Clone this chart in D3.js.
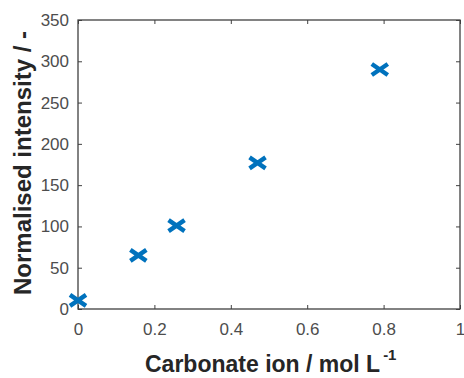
<!DOCTYPE html>
<html><head><meta charset="utf-8">
<script src="https://cdn.jsdelivr.net/npm/d3@7"></script>
<style>body{margin:0;background:#fff}svg{display:block}</style>
</head><body>
<script>
const xValues = [0.0, 0.158, 0.258, 0.47, 0.79];
const yValues = [10.5, 65, 101, 177, 290];
const xTicks = [0, 0.2, 0.4, 0.6, 0.8, 1];
const yTicks = [0, 50, 100, 150, 200, 250, 300, 350];
const xLabel = "Carbonate ion / mol L";
const yLabel = "Normalised intensity / -";

const W = 464, H = 378;
const m = {left: 78, right: 4, top: 20, bottom: 69};
const svg = d3.select("body").append("svg").attr("width", W).attr("height", H);
const x = d3.scaleLinear().domain([0, 1]).range([m.left, W - m.right]);
const y = d3.scaleLinear().domain([0, 350]).range([H - m.bottom, m.top]);
const axisColor = "#404040";
const font = "Arial, 'Liberation Sans', sans-serif";

function style(g) {
  g.select(".domain").remove();
  g.selectAll(".tick line").attr("stroke", axisColor).attr("stroke-width", 1);
  g.selectAll(".tick text").attr("fill", "#4d4d4d").style("font-family", font).style("font-size", "17px");
}
svg.append("g").attr("transform", `translate(0,${y(0)})`)
  .call(d3.axisBottom(x).tickValues(xTicks).tickSize(-4).tickPadding(14).tickFormat(d => d3.format("")(d)))
  .call(style);
svg.append("g").attr("transform", `translate(0,${y(350)})`)
  .call(d3.axisTop(x).tickValues(xTicks).tickSize(-4).tickFormat(""))
  .call(style);
svg.append("g").attr("transform", `translate(${x(0)},0)`)
  .call(d3.axisLeft(y).tickValues(yTicks).tickSize(-4).tickPadding(9))
  .call(style);
svg.append("g").attr("transform", `translate(${x(1)},0)`)
  .call(d3.axisRight(y).tickValues(yTicks).tickSize(-4).tickFormat(""))
  .call(style);

svg.append("rect").attr("x", x(0)).attr("y", y(350))
  .attr("width", x(1) - x(0)).attr("height", y(0) - y(350))
  .attr("fill", "none").attr("stroke", axisColor).attr("stroke-width", 1.3);

const pts = svg.append("g");
xValues.forEach((xv, i) => {
  const cx = x(xv), cy = y(yValues[i]);
  pts.append("path")
    .attr("d", `M${cx-8},${cy-5.5}L${cx+8},${cy+5.5}M${cx-8},${cy+5.5}L${cx+8},${cy-5.5}`)
    .attr("stroke", "#0072BD").attr("stroke-width", 4.4).attr("fill", "none");
});

const xl = svg.append("text").attr("x", 145).attr("y", 372).attr("text-anchor", "start")
  .style("font-family", font).style("font-size", "23px").style("font-weight", "bold").attr("fill", "#262626");
xl.append("tspan").text(xLabel);
xl.append("tspan").attr("dx", 3).attr("dy", -12).style("font-size", "15px").text("-1");

svg.append("text").attr("transform", `translate(31,163) rotate(-90)`)
  .attr("text-anchor", "middle")
  .style("font-family", font).style("font-size", "24px").style("font-weight", "bold").attr("fill", "#262626")
  .text(yLabel);
</script>
</body></html>
